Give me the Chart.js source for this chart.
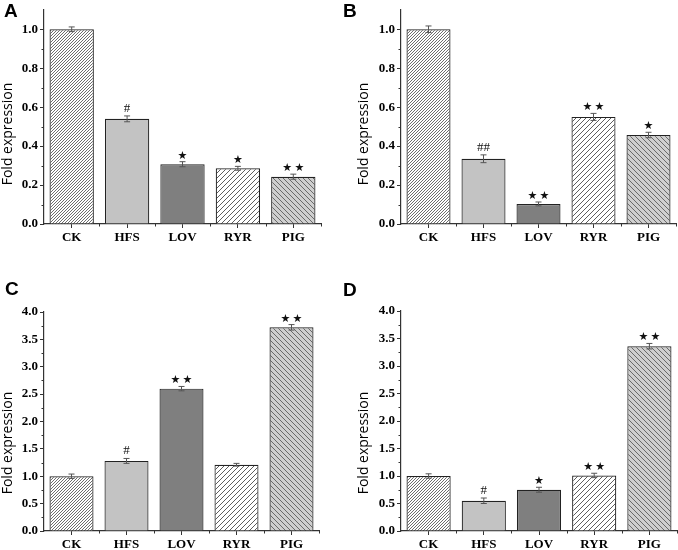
<!DOCTYPE html>
<html>
<head>
<meta charset="utf-8">
<script src="https://cdn.jsdelivr.net/npm/chart.js@4.4.1/dist/chart.umd.min.js"></script>
<style>
  body { margin: 0; background: #fff; }
  #wrap { position: relative; width: 678px; height: 550px; background: #fff; }
  canvas { position: absolute; }
</style>
</head>
<body>
<div id="wrap">
  <canvas id="cA" width="339" height="250" style="left:0;top:0"></canvas>
  <canvas id="cB" width="339" height="250" style="left:339px;top:0"></canvas>
  <canvas id="cC" width="339" height="280" style="left:0;top:270px"></canvas>
  <canvas id="cD" width="339" height="280" style="left:339px;top:270px"></canvas>
</div>
<script>
// groups on the x axis
const categories = ['CK', 'HFS', 'LOV', 'RYR', 'PIG'];

// panel A
const valuesA = [1.0, 0.54, 0.307, 0.286, 0.243];
const errorsA = [0.012, 0.015, 0.013, 0.01, 0.013];
const marksA  = ['', '#', '★', '★', '★★'];
// panel B
const valuesB = [1.0, 0.335, 0.103, 0.55, 0.457];
const errorsB = [0.017, 0.02, 0.01, 0.018, 0.014];
const marksB  = ['', '##', '★★', '★★', '★'];
// panel C
const valuesC = [1.0, 1.28, 2.6, 1.21, 3.72];
const errorsC = [0.04, 0.045, 0.04, 0.025, 0.05];
const marksC  = ['', '#', '★★', '', '★★'];
// panel D
const valuesD = [1.0, 0.55, 0.75, 1.01, 3.36];
const errorsD = [0.04, 0.05, 0.045, 0.04, 0.05];
const marksD  = ['', '#', '★', '★★', '★★'];

// y ticks
const ticksAB = [0, 0.2, 0.4, 0.6, 0.8, 1.0];
const minorAB = [0.1, 0.3, 0.5, 0.7, 0.9];
const ticksCD = [0, 0.5, 1.0, 1.5, 2.0, 2.5, 3.0, 3.5, 4.0];
const minorCD = [0.25, 0.75, 1.25, 1.75, 2.25, 2.75, 3.25, 3.75];

const yTitle = 'Fold expression';

function hatch(period, dir, bg, fg) {
  const c = document.createElement('canvas');
  c.width = c.height = period;
  const g = c.getContext('2d');
  g.fillStyle = bg;
  g.fillRect(0, 0, period, period);
  g.strokeStyle = fg;
  g.lineWidth = 1;
  g.beginPath();
  if (dir === '/') {
    g.moveTo(0, period); g.lineTo(period, 0);
    g.moveTo(-1, 1); g.lineTo(1, -1);
    g.moveTo(period - 1, period + 1); g.lineTo(period + 1, period - 1);
  } else {
    g.moveTo(0, 0); g.lineTo(period, period);
    g.moveTo(-1, period - 1); g.lineTo(1, period + 1);
    g.moveTo(period - 1, -1); g.lineTo(period + 1, 1);
  }
  g.stroke();
  return g.createPattern(c, 'repeat');
}

const fills = [
  hatch(3, '/', '#ffffff', '#6e6e6e'),
  '#c3c3c3',
  '#7f7f7f',
  hatch(5, '/', '#ffffff', '#5e5e5e'),
  hatch(5, '\\', '#cfcfcf', '#6a6a6a')
];

const axisColor = '#333';

// error bars, significance marks, minor ticks, panel letter, y title
const extras = {
  id: 'extras',
  afterDatasetsDraw(chart, args, o) {
    const ctx = chart.ctx;
    const y = chart.scales.y;
    const meta = chart.getDatasetMeta(0);
    ctx.save();
    meta.data.forEach((bar, i) => {
      const v = o.values[i], e = o.errors[i];
      const top = y.getPixelForValue(v + e);
      const bot = y.getPixelForValue(v - e);
      ctx.strokeStyle = '#555';
      ctx.lineWidth = 1;
      ctx.beginPath();
      ctx.moveTo(bar.x, top); ctx.lineTo(bar.x, bot);
      ctx.moveTo(bar.x - 3, top); ctx.lineTo(bar.x + 3, top);
      ctx.moveTo(bar.x - 3, bot); ctx.lineTo(bar.x + 3, bot);
      ctx.stroke();
      const m = o.marks[i];
      if (m) {
        ctx.fillStyle = '#111';
        ctx.textAlign = 'center';
        ctx.textBaseline = 'alphabetic';
        if (m.indexOf('#') >= 0) {
          ctx.font = '13px "Liberation Serif"';
          ctx.fillText(m, bar.x, top - 4);
        } else {
          ctx.font = '11px "DejaVu Sans"';
          ctx.fillText(m.split('').join('\u2009'), bar.x, top - 3);
        }
      }
    });
    ctx.restore();
  },
  afterDraw(chart, args, o) {
    const ctx = chart.ctx;
    const y = chart.scales.y, x = chart.scales.x;
    const area = chart.chartArea;
    ctx.save();
    ctx.strokeStyle = axisColor;
    ctx.lineWidth = 1;
    ctx.beginPath();
    o.minor.forEach(v => {
      const py = Math.round(y.getPixelForValue(v)) + 0.5;
      ctx.moveTo(area.left - 2.5, py); ctx.lineTo(area.left, py);
    });
    for (let i = 0; i < categories.length; i++) {
      const px = i < categories.length - 1
        ? (x.getPixelForValue(i) + x.getPixelForValue(i + 1)) / 2
        : area.right;
      const rx = Math.round(px) + 0.5;
      ctx.moveTo(rx, area.bottom); ctx.lineTo(rx, area.bottom + 2.5);
    }
    ctx.stroke();

    ctx.fillStyle = '#000';
    ctx.font = 'bold 19px "Liberation Sans"';
    ctx.textAlign = 'left';
    ctx.textBaseline = 'alphabetic';
    ctx.fillText(o.letter, o.letterX, o.letterY);

    ctx.translate(o.titleX, o.titleY);
    ctx.rotate(-Math.PI / 2);
    ctx.font = '14px "Open Sans"';
    ctx.textAlign = 'center';
    ctx.textBaseline = 'middle';
    ctx.fillText(yTitle, 0, 0);
    ctx.restore();
  }
};

function makePanel(id, values, errors, marks, ticks, minor, maxY, lay) {
  return new Chart(document.getElementById(id), {
    type: 'bar',
    data: {
      labels: categories,
      datasets: [{
        data: values,
        backgroundColor: fills,
        borderColor: '#222',
        borderWidth: 1.2,
        barPercentage: 0.8,
        categoryPercentage: 1.0
      }]
    },
    options: {
      responsive: false,
      animation: false,
      devicePixelRatio: 1,
      layout: { padding: { top: lay.top, right: lay.right, left: 0, bottom: 0 } },
      plugins: {
        legend: { display: false },
        tooltip: { enabled: false },
        extras: {
          values: values, errors: errors, marks: marks, minor: minor,
          letter: lay.letter, letterX: lay.letterX, letterY: lay.letterY,
          titleX: lay.titleX, titleY: lay.titleY
        }
      },
      scales: {
        x: {
          afterFit: s => { s.height = lay.xh; },
          grid: { display: true, offset: false, drawOnChartArea: false, tickLength: 4, tickColor: axisColor, tickWidth: 1 },
          border: { display: true, color: axisColor, width: 1.2 },
          ticks: { color: '#000', padding: 2, font: { family: 'Liberation Serif', weight: 'bold', size: 13 } }
        },
        y: {
          min: 0,
          max: maxY,
          afterFit: s => { s.width = lay.yw; },
          afterBuildTicks: s => { s.ticks = ticks.map(v => ({ value: v })); },
          grid: { display: true, drawOnChartArea: false, tickLength: 4, tickColor: axisColor, tickWidth: 1 },
          border: { display: true, color: axisColor, width: 1.2 },
          ticks: {
            color: '#000', padding: 2,
            font: { family: 'Liberation Serif', weight: 'bold', size: 13 },
            callback: v => Number(v).toFixed(1)
          }
        }
      }
    },
    plugins: [extras]
  });
}

makePanel('cA', valuesA, errorsA, marksA, ticksAB, minorAB, 1.1,
  { top: 2, right: 18, xh: 26, yw: 44, letter: 'A', letterX: 4, letterY: 17, titleX: 8, titleY: 134 });
makePanel('cB', valuesB, errorsB, marksB, ticksAB, minorAB, 1.1,
  { top: 3, right: 2, xh: 26, yw: 62, letter: 'B', letterX: 4, letterY: 17, titleX: 25, titleY: 134 });
makePanel('cC', valuesC, errorsC, marksC, ticksCD, minorCD, 4.0,
  { top: 42, right: 20, xh: 19, yw: 44, letter: 'C', letterX: 5, letterY: 25, titleX: 8, titleY: 173 });
makePanel('cD', valuesD, errorsD, marksD, ticksCD, minorCD, 4.0,
  { top: 41, right: 1, xh: 19, yw: 62, letter: 'D', letterX: 4, letterY: 26, titleX: 25, titleY: 173 });
</script>
</body>
</html>
